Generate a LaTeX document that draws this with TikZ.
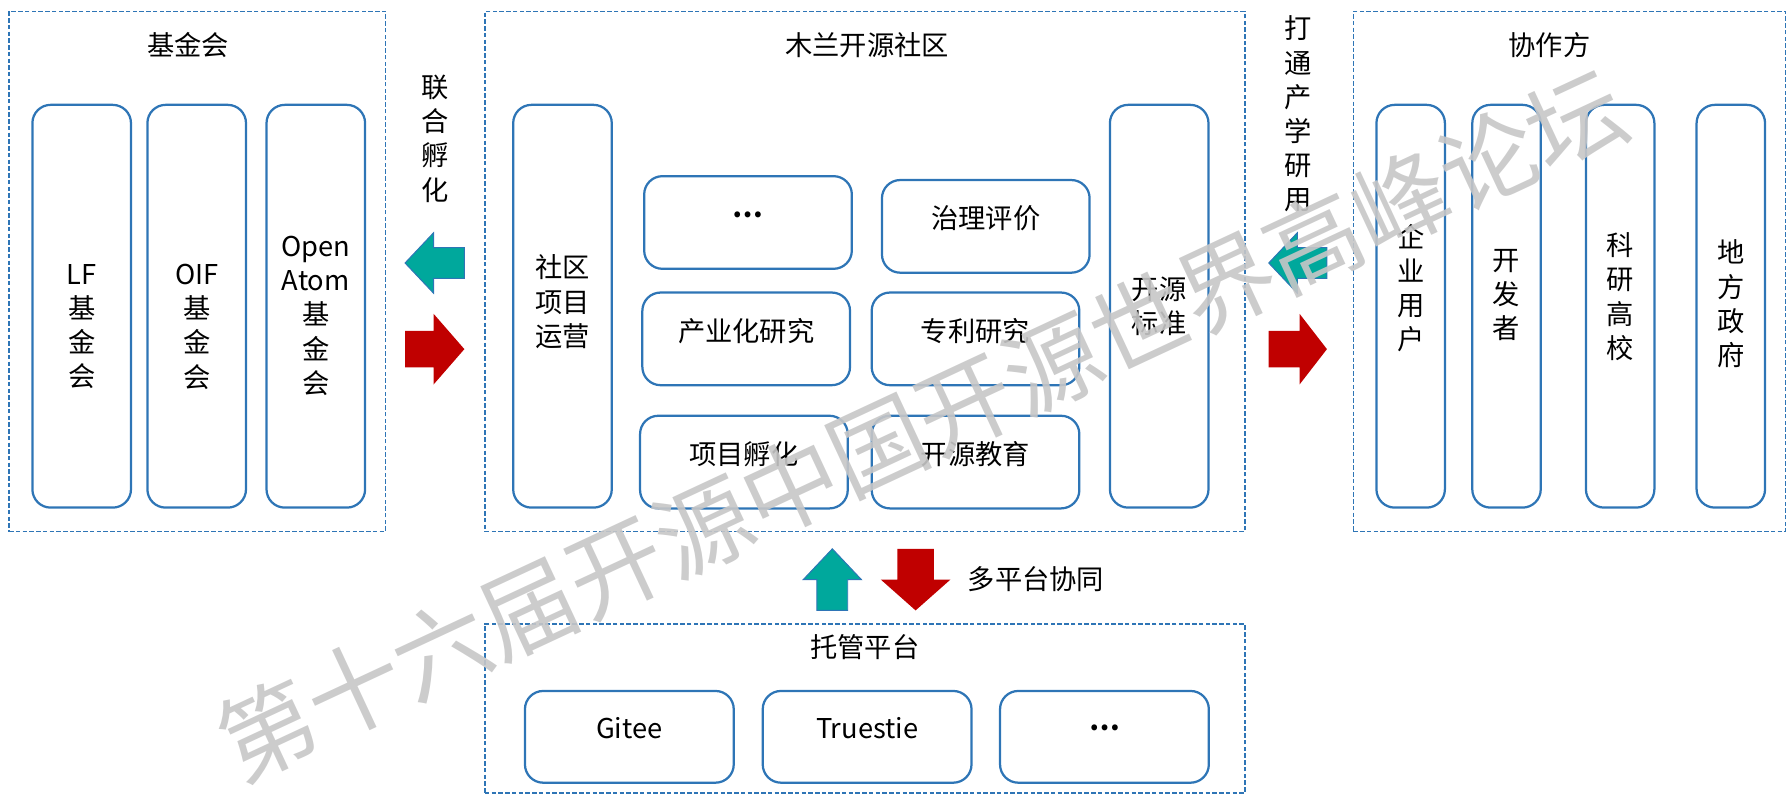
\documentclass[tikz,border=0pt]{standalone}
\usepackage{fontspec}
\setmainfont{Noto Sans CJK SC}
\usetikzlibrary{positioning}
\definecolor{boxblue}{HTML}{2E75B6}
\definecolor{arrteal}{HTML}{00A89C}
\definecolor{arrred}{HTML}{C00000}

\begin{document}
\begin{tikzpicture}[node distance=2.5cm, font=\fontsize{17pt}{21.3pt}\selectfont,
  group/.style={draw=boxblue, line width=0.9pt, dash pattern=on 2.8pt off 1.4pt, minimum height=11.4cm},
  title/.style={inner sep=0pt},
  tall/.style={draw=boxblue, line width=1.4pt, rounded corners=0.4cm, minimum width=2.16cm, minimum height=8.825cm},
  slim/.style={tall, minimum width=1.5cm},
  wide/.style={draw=boxblue, line width=1.4pt, rounded corners=0.4cm, minimum width=4.55cm, minimum height=2.03cm},
  plat/.style={wide, minimum width=4.575cm, minimum height=2.01cm},
  txt/.style={align=center, inner sep=0pt},
  tealarr/.style={fill=arrteal, draw=boxblue, line width=0.6pt},
  redarr/.style={fill=arrred},
  wmark/.style={text=black!22, text opacity=0.9, font=\fontsize{60pt}{60pt}\selectfont},
]
\useasboundingbox (0,0) rectangle (39.2,17.45);
%groups
\node[group, minimum width=8.25cm] (fund) at (4.325,11.5) {};
\node[group, minimum width=16.65cm] (mulan) at (18.95,11.5) {};
\node[group, minimum width=9.475cm] (party) at (34.39,11.5) {};
\node[group, minimum width=16.65cm, minimum height=3.7cm] (host) at (18.95,1.925) {};
\node[title] (fund-t) at ([xshift=-2mm,yshift=-7.5mm]fund.north) {基金会};
\node[title] (mulan-t) at ([xshift=0.5mm,yshift=-7.5mm]mulan.north) {木兰开源社区};
\node[title] (party-t) at ([xshift=-4.4mm,yshift=-7.5mm]party.north) {协作方};
\node[title] (host-t) at ([yshift=-5.25mm]host.north) {托管平台};
%foundations
\node[tall] (lf) at (1.79,10.74) {};
\node[tall] (oif) [right of=lf, node distance=2.52cm] {};
\node[tall] (atom) [right of=oif, node distance=2.61cm] {};
\node[txt] (lf-l) at ([yshift=-4.5mm]lf) {LF\\基\\金\\会};
\node[txt] (oif-l) at ([yshift=-4.5mm]oif) {OIF\\基\\金\\会};
\node[txt] (atom-l) at ([yshift=-2.1mm]atom) {Open\\Atom\\基\\金\\会};
%community
\node[tall] (ops) at (12.325,10.74) {};
\node[tall] (std) [right of=ops, node distance=13.075cm] {};
\node[txt] (ops-l) at ([yshift=1mm]ops) {社区\\项目\\运营};
\node[txt] (std-l) at (std) {开源\\标准};
\node[wide] (dots) at (16.39,12.575) {};
\node[wide] (eval) at (21.6,12.49) {};
\node[wide] (ind) at (16.35,10.025) {};
\node[wide] (pat) [right of=ind, node distance=5.025cm] {};
\node[wide] (inc) at (16.3,7.325) {};
\node[wide] (edu) [right of=inc, node distance=5.075cm] {};
\node[txt] (dots-l) at ([yshift=1.7mm]dots) {\bfseries …};
\node[txt] (eval-l) at ([yshift=1.7mm]eval) {治理评价};
\node[txt] (ind-l) at ([yshift=1.7mm]ind) {产业化研究};
\node[txt] (pat-l) at ([yshift=1.7mm]pat) {专利研究};
\node[txt] (inc-l) at ([yshift=1.7mm]inc) {项目孵化};
\node[txt] (edu-l) at ([yshift=1.7mm]edu) {开源教育};
%partners
\node[slim] (ent) at (30.91,10.74) {};
\node[slim] (dev) [right of=ent, node distance=2.1cm] {};
\node[slim] (uni) [right of=dev, node distance=2.49cm] {};
\node[slim] (gov) [right of=uni, node distance=2.425cm] {};
\node[txt] (ent-l) at ([yshift=4mm]ent) {企\\业\\用\\户};
\node[txt] (dev-l) at ([yshift=2.5mm]dev) {开\\发\\者};
\node[txt] (uni-l) at ([yshift=2.1mm]uni) {科\\研\\高\\校};
\node[txt] (gov-l) at ([yshift=0.5mm]gov) {地\\方\\政\\府};
%platforms
\node[plat] (gitee) at (13.79,1.305) {};
\node[plat] (trust) [right of=gitee, node distance=5.21cm] {};
\node[plat] (more) [right of=trust, node distance=5.2cm] {};
\node[txt] (gitee-l) at ([yshift=2mm]gitee) {Gitee};
\node[txt] (trust-l) at ([yshift=2mm]trust) {Truestie};
\node[txt] (more-l) at ([yshift=2mm]more) {\bfseries …};
%arrow labels
\node[txt] (join) at (9.525,14.41) {联\\合\\孵\\化};
\node[txt] (bridge) at (28.45,14.95) {打\\通\\产\\学\\研\\用};
\node[txt] (sync) at (22.7,4.75) {多平台协同};
%block arrows
\coordinate (ja-tip) at (8.875,11.6875);
\coordinate (jb-tip) at (10.175,9.8);
\coordinate (ba-tip) at (27.8,11.6875);
\coordinate (bb-tip) at (29.075,9.8);
\coordinate (up-tip) at (18.2375,5.425);
\coordinate (dn-tip) at (20.0625,4.075);
\filldraw[tealarr] (ja-tip) -- ++(0.625,0.6625) -- ++(0,-0.325) -- ++(0.675,0) -- ++(0,-0.675) -- ++(-0.675,0) -- ++(0,-0.325) -- cycle;
\fill[redarr] (jb-tip) -- ++(-0.675,0.775) -- ++(0,-0.375) -- ++(-0.625,0) -- ++(0,-0.8) -- ++(0.625,0) -- ++(0,-0.375) -- cycle;
\filldraw[tealarr] (ba-tip) -- ++(0.625,0.6625) -- ++(0,-0.325) -- ++(0.65,0) -- ++(0,-0.675) -- ++(-0.65,0) -- ++(0,-0.325) -- cycle;
\fill[redarr] (bb-tip) -- ++(-0.6,0.775) -- ++(0,-0.375) -- ++(-0.675,0) -- ++(0,-0.8) -- ++(0.675,0) -- ++(0,-0.375) -- cycle;
\filldraw[tealarr] (up-tip) -- ++(0.6375,-0.675) -- ++(-0.3,0) -- ++(0,-0.675) -- ++(-0.675,0) -- ++(0,0.675) -- ++(-0.3,0) -- cycle;
\fill[redarr] (dn-tip) -- ++(0.7625,0.675) -- ++(-0.3625,0) -- ++(0,0.675) -- ++(-0.8,0) -- ++(0,-0.675) -- ++(-0.3625,0) -- cycle;
%watermark
\node[wmark, rotate=25] (wm) at (20.19,8.14) {第十六届开源中国开源世界高峰论坛};
\end{tikzpicture}
\end{document}
